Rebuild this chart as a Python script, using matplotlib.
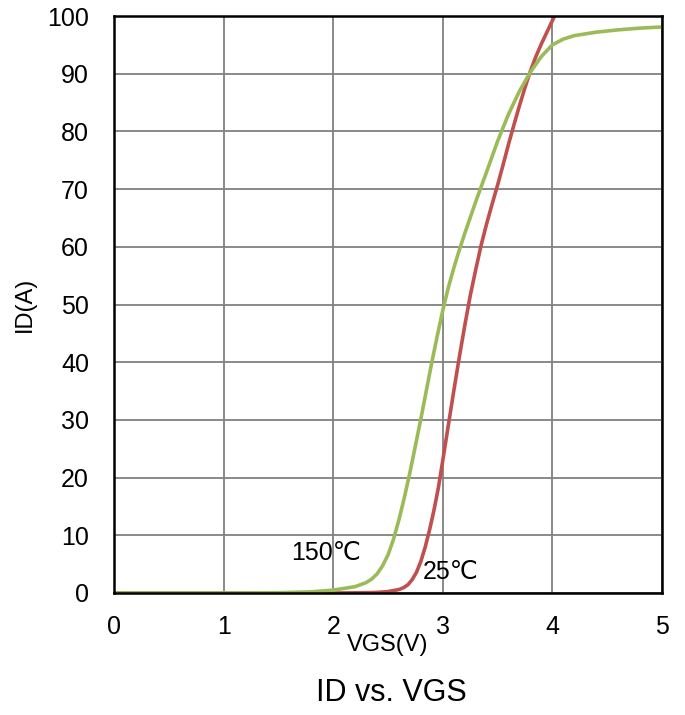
import numpy as np
import matplotlib
matplotlib.use("Agg")
import matplotlib.pyplot as plt

plt.rcParams['font.family'] = ['Liberation Sans', 'DejaVu Sans']

# 25C curve (VGS, ID)
vgs_25 = [0, 1.0, 2.0, 2.3, 2.4, 2.5, 2.6, 2.64, 2.68, 2.72, 2.76, 2.8, 2.84,
          2.88, 2.92, 2.96, 3.0, 3.05, 3.1, 3.15, 3.2, 3.25, 3.3, 3.35, 3.4,
          3.45, 3.5, 3.55, 3.6, 3.65, 3.7, 3.75, 3.8, 3.85, 3.9, 3.95, 4.0, 4.02]
id_25 = [0, 0, 0, 0.05, 0.1, 0.25, 0.6, 0.9, 1.4, 2.3, 3.6, 5.5, 8.0,
         11.0, 14.4, 18.3, 23.0, 29.0, 35.0, 40.8, 46.3, 51.5, 56.0, 60.3, 64.0,
         67.4, 70.7, 74.2, 77.8, 81.2, 84.5, 87.6, 90.5, 93.0, 95.2, 97.2, 99.2, 100.0]

# 150C curve
vgs_150 = [0, 1.0, 1.5, 1.8, 2.0, 2.2, 2.3, 2.35, 2.4, 2.45, 2.5, 2.55, 2.6,
           2.65, 2.7, 2.75, 2.8, 2.85, 2.9, 2.95, 3.0, 3.05, 3.1, 3.15, 3.2,
           3.3, 3.4, 3.5, 3.6, 3.7, 3.8, 3.9, 4.0, 4.1, 4.2, 4.4, 4.6, 4.8, 5.0]
id_150 = [0, 0, 0.05, 0.2, 0.5, 1.1, 1.8, 2.4, 3.3, 4.7, 6.6, 9.3, 12.7,
          16.6, 20.9, 25.5, 30.2, 35.1, 40.0, 44.6, 49.0, 52.9, 56.3, 59.4, 62.3,
          67.8, 73.0, 78.3, 83.0, 87.0, 90.3, 93.0, 95.0, 96.0, 96.6, 97.2, 97.6, 97.9, 98.1]

x_ticks = [0, 1, 2, 3, 4, 5]
y_ticks = [0, 10, 20, 30, 40, 50, 60, 70, 80, 90, 100]

fig = plt.figure(figsize=(6.85, 7.15), dpi=100)
ax = fig.add_axes([114/685, 1 - 593/715, 548/685, 577/715])

ax.plot(vgs_25, id_25, color='#C0504D', lw=2.6, solid_joinstyle='round')
ax.plot(vgs_150, id_150, color='#9BBB59', lw=2.6, solid_joinstyle='round')

ax.set_xlim(0, 5)
ax.set_ylim(0, 100)
ax.set_xticks(x_ticks)
ax.set_yticks(y_ticks)
ax.grid(True, color='#808080', lw=1.3)
ax.set_axisbelow(True)
for s in ax.spines.values():
    s.set_color('black')
    s.set_linewidth(1.8)
ax.tick_params(axis='both', length=0, labelsize=18)
ax.tick_params(axis='y', pad=18)
ax.tick_params(axis='x', pad=16)

ax.set_xlabel('VGS(V)', fontsize=17, labelpad=-4)
ax.set_ylabel('ID(A)', fontsize=17, labelpad=8)

ax.text(1.62, 6.9, '150℃', fontsize=18, ha='left', va='center')
ax.text(2.82, 3.6, '25℃', fontsize=18, ha='left', va='center')

fig.text(391/685, 1 - 693/715, 'ID vs. VGS', fontsize=22, ha='center', va='center')

fig.savefig('out.png', dpi=100)
